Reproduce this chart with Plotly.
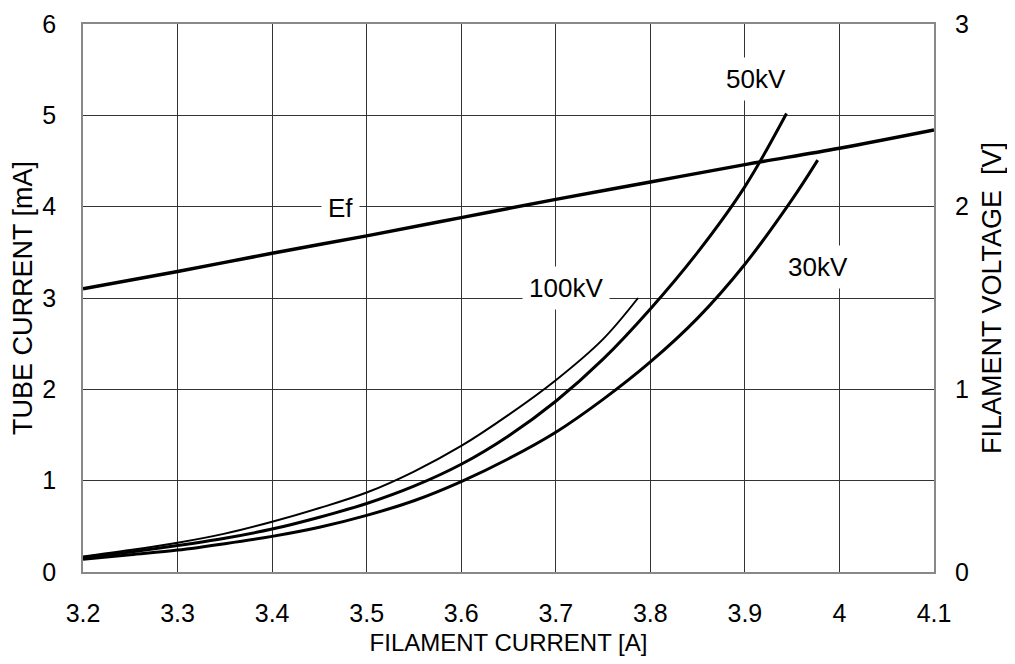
import plotly.graph_objects as go

# Filament current [A]
x_100kv = [3.2, 3.25, 3.3, 3.35, 3.4, 3.45, 3.5, 3.55, 3.6, 3.65, 3.7, 3.75, 3.787]
y_100kv = [0.17, 0.24, 0.32, 0.42, 0.55, 0.70, 0.87, 1.10, 1.38, 1.72, 2.10, 2.55, 3.0]

x_50kv = [3.2, 3.25, 3.3, 3.35, 3.4, 3.45, 3.5, 3.55, 3.6, 3.65, 3.7, 3.75, 3.8, 3.85, 3.9, 3.944]
y_50kv = [0.16, 0.22, 0.29, 0.37, 0.47, 0.60, 0.75, 0.94, 1.18, 1.49, 1.87, 2.33, 2.88, 3.50, 4.22, 5.02]

x_30kv = [3.2, 3.25, 3.3, 3.35, 3.4, 3.45, 3.5, 3.55, 3.6, 3.65, 3.7, 3.75, 3.8, 3.85, 3.9, 3.95, 3.977]
y_30kv = [0.14, 0.19, 0.24, 0.31, 0.39, 0.49, 0.62, 0.78, 0.99, 1.24, 1.53, 1.89, 2.30, 2.78, 3.37, 4.08, 4.51]

x_ef = [3.2, 3.3, 3.4, 3.5, 3.6, 3.7, 3.8, 3.9, 4.0, 4.1]
v_ef = [1.55, 1.645, 1.745, 1.84, 1.94, 2.04, 2.135, 2.23, 2.32, 2.42]

x_ticks = [3.2, 3.3, 3.4, 3.5, 3.6, 3.7, 3.8, 3.9, 4.0, 4.1]
x_tick_labels = ["3.2", "3.3", "3.4", "3.5", "3.6", "3.7", "3.8", "3.9", "4", "4.1"]

FONT = "Liberation Sans, Arial, sans-serif"

fig = go.Figure()
fig.add_trace(go.Scatter(x=x_100kv, y=y_100kv, mode="lines",
                         line=dict(color="black", width=2, shape="spline"), name="100kV"))
fig.add_trace(go.Scatter(x=x_50kv, y=y_50kv, mode="lines",
                         line=dict(color="black", width=3, shape="spline"), name="50kV"))
fig.add_trace(go.Scatter(x=x_30kv, y=y_30kv, mode="lines",
                         line=dict(color="black", width=3, shape="spline"), name="30kV"))
fig.add_trace(go.Scatter(x=x_ef, y=v_ef, mode="lines", yaxis="y2",
                         line=dict(color="black", width=3.5, shape="spline"), name="Ef"))

label_style = dict(showarrow=False, bgcolor="white", font=dict(size=26, color="black", family=FONT),
                   borderpad=6)
fig.add_annotation(x=3.472, y=1.99, yref="y2", text="Ef", **label_style)
fig.add_annotation(x=3.912, y=5.40, text="50kV", **label_style)
fig.add_annotation(x=3.711, y=3.11, text="100kV", **label_style)
fig.add_annotation(x=3.977, y=3.34, text="30kV", **label_style)

axis_common = dict(
    showline=True, mirror=True, linecolor="#888888", linewidth=1.5,
    showgrid=True, gridcolor="#333333", gridwidth=1, zeroline=False,
    tickfont=dict(size=25, color="black", family=FONT),
    ticks="", automargin=False, ticklabeloverflow="allow",
)

fig.update_layout(
    width=1015, height=664,
    margin=dict(l=75, r=89, t=16, b=100),
    plot_bgcolor="white", paper_bgcolor="white",
    showlegend=False,
    font=dict(family=FONT, size=25, color="black"),
    xaxis=dict(range=[3.2, 4.1], tickvals=x_ticks, ticktext=x_tick_labels,
               ticklabelstandoff=18,
               title=dict(text="FILAMENT CURRENT [A]", font=dict(size=24), standoff=8),
               **axis_common),
    yaxis=dict(range=[0, 6], dtick=1, ticklabelstandoff=20,
               title=dict(text="TUBE CURRENT [mA]", font=dict(size=27), standoff=2),
               **axis_common),
    yaxis2=dict(range=[0, 3], dtick=1, overlaying="y", side="right",
                showgrid=False, zeroline=False, showline=False, ticks="",
                ticklabelstandoff=20, automargin=False, ticklabeloverflow="allow",
                tickfont=dict(size=25, color="black", family=FONT),
                title=dict(text="FILAMENT VOLTAGE  [V]", font=dict(size=27), standoff=14)),
)

fig.write_html("out.html")
